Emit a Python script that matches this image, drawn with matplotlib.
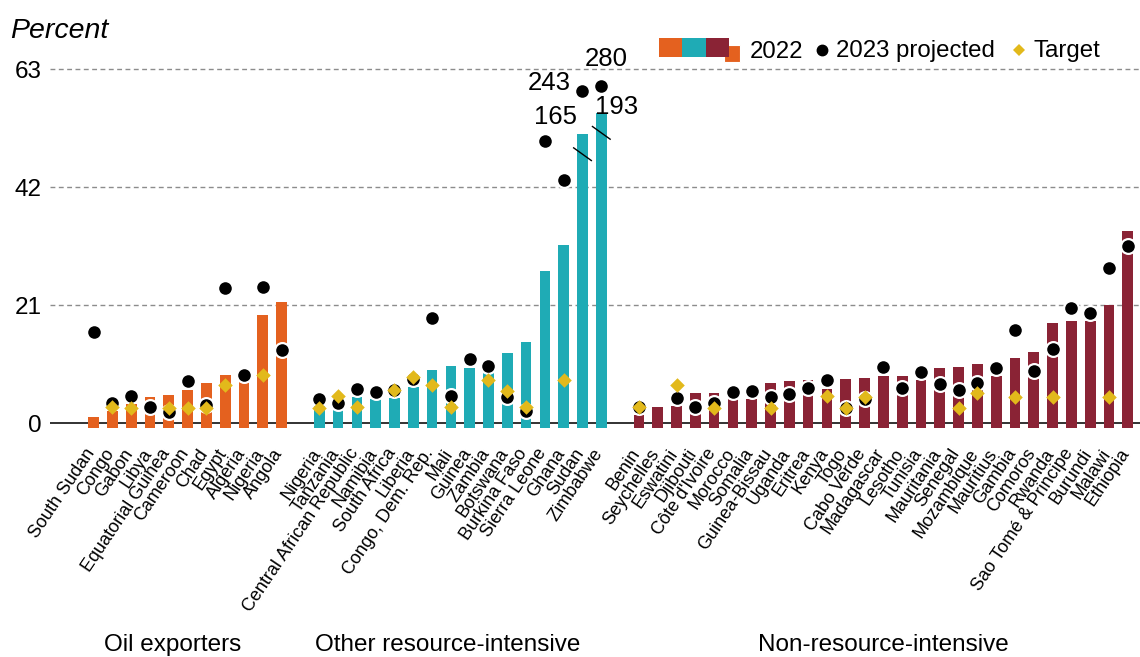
import matplotlib
matplotlib.use("Agg")
import matplotlib.pyplot as plt
import matplotlib.transforms as mtransforms
import numpy as np
from matplotlib.patches import Rectangle
from matplotlib.lines import Line2D

plt.rcParams['font.family'] = ['Liberation Sans', 'DejaVu Sans']

# Data (percent)
oil = ['South Sudan', 'Congo', 'Gabon', 'Libya', 'Equatorial Guinea', 'Cameroon',
       'Chad', 'Egypt', 'Algeria', 'Nigeria', 'Angola']
oil_2022 = [1.2, 2.2, 3.5, 4.7, 5.0, 6.0, 7.1, 8.7, 7.4, 19.2, 21.6]
oil_2023 = [16.3, 3.6, 4.9, 2.9, 2.1, 7.5, 3.3, 24.1, 8.6, 24.3, 13.1]
oil_target = [None, 2.85, 2.7, None, 2.7, 2.7, 2.8, 6.8, None, 8.7, None]

res = ['Nigeria', 'Tanzania', 'Central African Republic', 'Namibia', 'South Africa',
       'Liberia', 'Congo, Dem. Rep.', 'Mali', 'Guinea', 'Zambia', 'Botswana',
       'Burkina Faso', 'Sierra Leone', 'Ghana', 'Sudan', 'Zimbabwe']
res_2022 = [3.5, 2.4, 4.7, 4.3, 4.45, 6.5, 9.5, 10.3, 9.9, 8.9, 12.5, 14.4,
            27.1, 31.7, 51.5, 55.3]
res_2023 = [4.3, 3.7, 6.2, 5.6, 5.9, 7.9, 18.8, 4.8, 11.5, 10.3, 4.7, 2.25,
            50.3, 43.3, 59.1, 60.0]
res_target = [2.8, 4.9, 2.85, None, 5.9, 8.3, 6.8, 2.85, None, 7.8, 5.8, 2.85,
              None, 7.8, None, None]

nonres = ['Benin', 'Seychelles', 'Eswatini', 'Djibouti', "Côte d'Ivoire", 'Morocco',
          'Somalia', 'Guinea-Bissau', 'Uganda', 'Eritrea', 'Kenya', 'Togo',
          'Cabo Verde', 'Madagascar', 'Lesotho', 'Tunisia', 'Mauritania', 'Senegal',
          'Mozambique', 'Mauritius', 'Gambia', 'Comoros', 'Rwanda',
          'Sao Tomé & Principe', 'Burundi', 'Malawi', 'Ethiopia']
nonres_2022 = [1.5, 2.9, 3.1, 5.4, 5.4, 4.3, 4.3, 7.1, 7.5, 7.7, 6.2, 7.9, 8.1,
               8.4, 8.5, 7.7, 9.8, 10.0, 10.6, 8.4, 11.6, 12.65, 17.9, 18.2,
               18.3, 21.0, 34.3]
nonres_2023 = [3.0, None, 4.5, 2.95, 3.7, 5.5, 5.8, 4.7, 5.3, 6.25, 7.7, 2.7,
               4.35, 10.0, 6.25, 9.2, 7.0, 5.9, 7.2, 9.8, 16.6, 9.4, 13.3, 20.5,
               19.7, 27.7, 31.6]
nonres_target = [2.9, None, 6.9, None, 2.8, None, None, 2.8, None, None, 4.8, 2.7,
                 4.75, None, None, None, None, 2.8, 5.4, None, 4.75, None, 4.75,
                 None, None, 4.75, None]

# Off-scale values (bars / dots are cut at the chart top)
offscale = [('Sudan', '2022', 165), ('Zimbabwe', '2022', 193),
            ('Sudan', '2023', 243), ('Zimbabwe', '2023', 280)]

groups = [('Oil exporters', oil, oil_2022, oil_2023, oil_target, '#E4611F'),
          ('Other resource-intensive', res, res_2022, res_2023, res_target, '#1FABB5'),
          ('Non-resource-intensive', nonres, nonres_2022, nonres_2023, nonres_target, '#8A2335')]
gold = '#E2B91B'

W, H = 1140, 657
fig = plt.figure(figsize=(W / 100, H / 100), dpi=100)
ax = fig.add_axes([50 / W, (H - 423.4) / H - 0.75 * 5.613 / H, 1 - 50 / W,
                   (423.4 - 30) / H + 0.75 * 5.613 / H])

labels, xs = [], []
pos = {}
start = 0
group_centers = []
for name, names, v22, v23, tgt, col in groups:
    x = np.arange(start, start + len(names))
    ax.bar(x, np.array(v22) + 0.75, bottom=-0.75, width=0.57, color=col,
           edgecolor='none', zorder=2)
    d = [(xi, v) for xi, v in zip(x, v23) if v is not None]
    ax.scatter([p[0] for p in d], [p[1] for p in d], s=150, color='white',
               zorder=3, linewidths=0)
    ax.scatter([p[0] for p in d], [p[1] for p in d], s=82, color='black',
               zorder=4, linewidths=0)
    t = [(xi, v) for xi, v in zip(x, tgt) if v is not None]
    ax.scatter([p[0] for p in t], [p[1] for p in t], s=55, marker='D', color=gold,
               zorder=5, linewidths=0)
    for xi, n, a, b in zip(x, names, v22, v23):
        pos[n] = (xi, a, b)
    labels += names
    xs += list(x)
    group_centers.append((name, x.mean()))
    start += len(names) + 1

# break marks and true values for the off-scale countries
for country, series, true_val in offscale:
    xi, top22, top23 = pos[country]
    if series == '2022':
        yb = top22 - 3.6
        ax.plot([xi - 0.5, xi + 0.5], [yb + 1.2, yb - 1.2], color='black', lw=1,
                zorder=6, solid_capstyle='butt')
        dx = -1.45 if country == 'Sudan' else 0.8
        ax.text(xi + dx, top22 + 3.0 if country == 'Sudan' else top22 + 1.0,
                str(true_val), ha='center', va='center', fontsize=18.5)
    else:
        dx = -1.75 if country == 'Sudan' else 0.25
        ax.text(xi + dx, top23 + 1.5 if country == 'Sudan' else top23 + 4.9,
                str(true_val), ha='center', va='center', fontsize=18.5)

ax.set_xlim(-2.32, 55.65)
ax.set_ylim(-0.75, 70)
ax.set_yticks([0, 21, 42, 63])
ax.tick_params(axis='y', length=0, labelsize=17.5, pad=6)
for yv in [21, 42, 63]:
    ax.axhline(yv, color='#8C8C8C', lw=1, ls=(0, (3.5, 2.5)), zorder=0)
ax.axhline(0, color='#222222', lw=1.3, zorder=1)
for s in ax.spines.values():
    s.set_visible(False)

ax.set_xticks(xs)
ax.set_xticklabels(labels, rotation=56, ha='right', rotation_mode='anchor',
                   fontsize=13)
ax.tick_params(axis='x', length=0, pad=13)
# nudge the slanted labels a little to the left, as in the original
shift = mtransforms.ScaledTranslation(-9 / 100, 0, fig.dpi_scale_trans)
for lab in ax.get_xticklabels():
    lab.set_transform(lab.get_transform() + shift)

group_shift = {'Oil exporters': -0.8, 'Other resource-intensive': -0.65,
               'Non-resource-intensive': 0.0}
for name, c in group_centers:
    xf = ax.transData.transform((c + group_shift[name], 0))[0] / W
    fig.text(xf, 6 / H, name, ha='center', va='baseline', fontsize=17.5)

fig.text(10 / W, 1 - 38 / H, 'Percent', style='italic', fontsize=20.5, va='baseline')


# legend, drawn by hand in pixel positions
def fx(x):
    return x / W


def fy(y):
    return 1 - y / H


fig.add_artist(Rectangle((fx(724), fy(61.7)), 16 / W, 16.7 / H, transform=fig.transFigure,
                         facecolor=groups[0][5], edgecolor='white', lw=0.8))
for i, g in enumerate(groups):
    fig.add_artist(Rectangle((fx(659 + i * 23.4), fy(57.3)), 23.4 / W, 19.6 / H,
                             transform=fig.transFigure, facecolor=g[5],
                             edgecolor='none'))
fig.text(fx(750), fy(57.5), '2022', fontsize=17.3, va='baseline')
fig.add_artist(Line2D([fx(821.7)], [fy(50)], marker='o', color='black', markersize=7.5,
                      transform=fig.transFigure))
fig.text(fx(836), fy(57.5), '2023 projected', fontsize=17.3, va='baseline')
fig.add_artist(Line2D([fx(1019)], [fy(50)], marker='D', color=gold, markersize=6.5,
                      markeredgewidth=0, transform=fig.transFigure))
fig.text(fx(1033), fy(57.5), 'Target', fontsize=17.3, va='baseline')

fig.savefig('out.png', dpi=100)
